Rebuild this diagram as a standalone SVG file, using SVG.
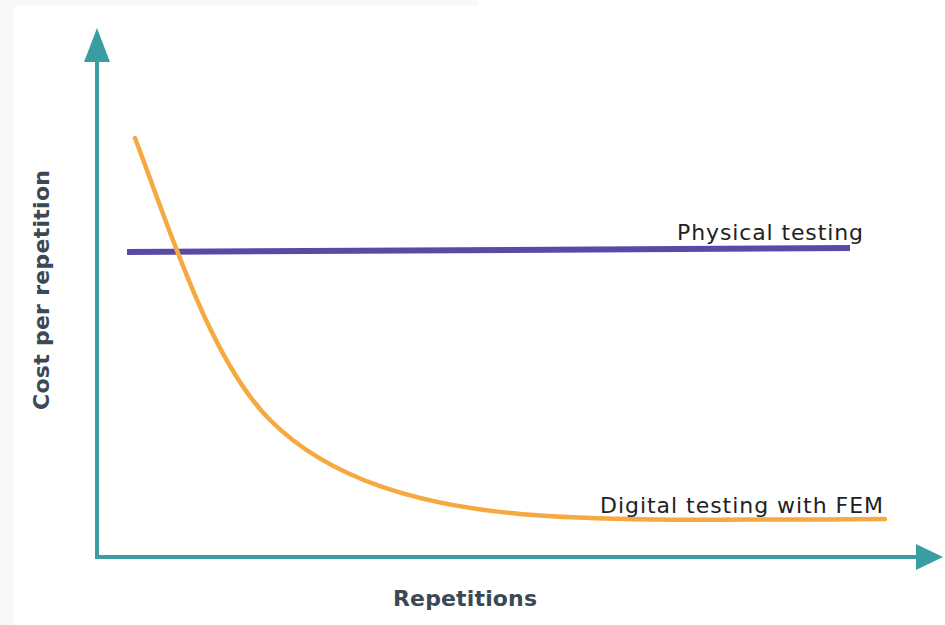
<svg xmlns="http://www.w3.org/2000/svg" width="945" height="625" viewBox="0 0 945 625">
<style>
.axis{stroke:#3a9da4;stroke-width:4;fill:none}
.head{fill:#3a9da4}
.lbl{font-family:"DejaVu Sans",sans-serif;font-size:22px;fill:#222}
.ax{font-family:"DejaVu Sans",sans-serif;font-weight:bold;font-size:22px;fill:#3b4856}
</style>
<rect width="945" height="625" fill="#fff"/>
<rect x="0" y="0" width="478" height="6" fill="#f8f8f8"/>
<rect x="0" y="0" width="14" height="625" fill="#f8f8f8"/>
<g id="axes">
<line class="axis" x1="97" y1="558" x2="97" y2="58"/>
<polygon class="head" points="97,28 84,62 110,62"/>
<line class="axis" x1="95" y1="557" x2="920" y2="557"/>
<polygon class="head" points="943,557 916,544 916,570"/>
</g>
<g id="connectors">
<path id="physical" d="M127,252 L850,248" stroke="#5a4aa6" stroke-width="6" fill="none"/>
<path id="digital" d="M135,138 C170,230 210,360 270,420 C330,480 420,505 520,514 C600,521 700,520 885,519" stroke="#f5a940" stroke-width="4.5" fill="none" stroke-linecap="round"/>
</g>
<g id="labels">
<text class="lbl" x="677" y="240" textLength="186">Physical testing</text>
<text class="lbl" x="600" y="513" textLength="283">Digital testing with FEM</text>
<text class="ax" x="393" y="606" textLength="144">Repetitions</text>
<text class="ax" transform="translate(49,410) rotate(-90)" textLength="240">Cost per repetition</text>
</g>
</svg>
